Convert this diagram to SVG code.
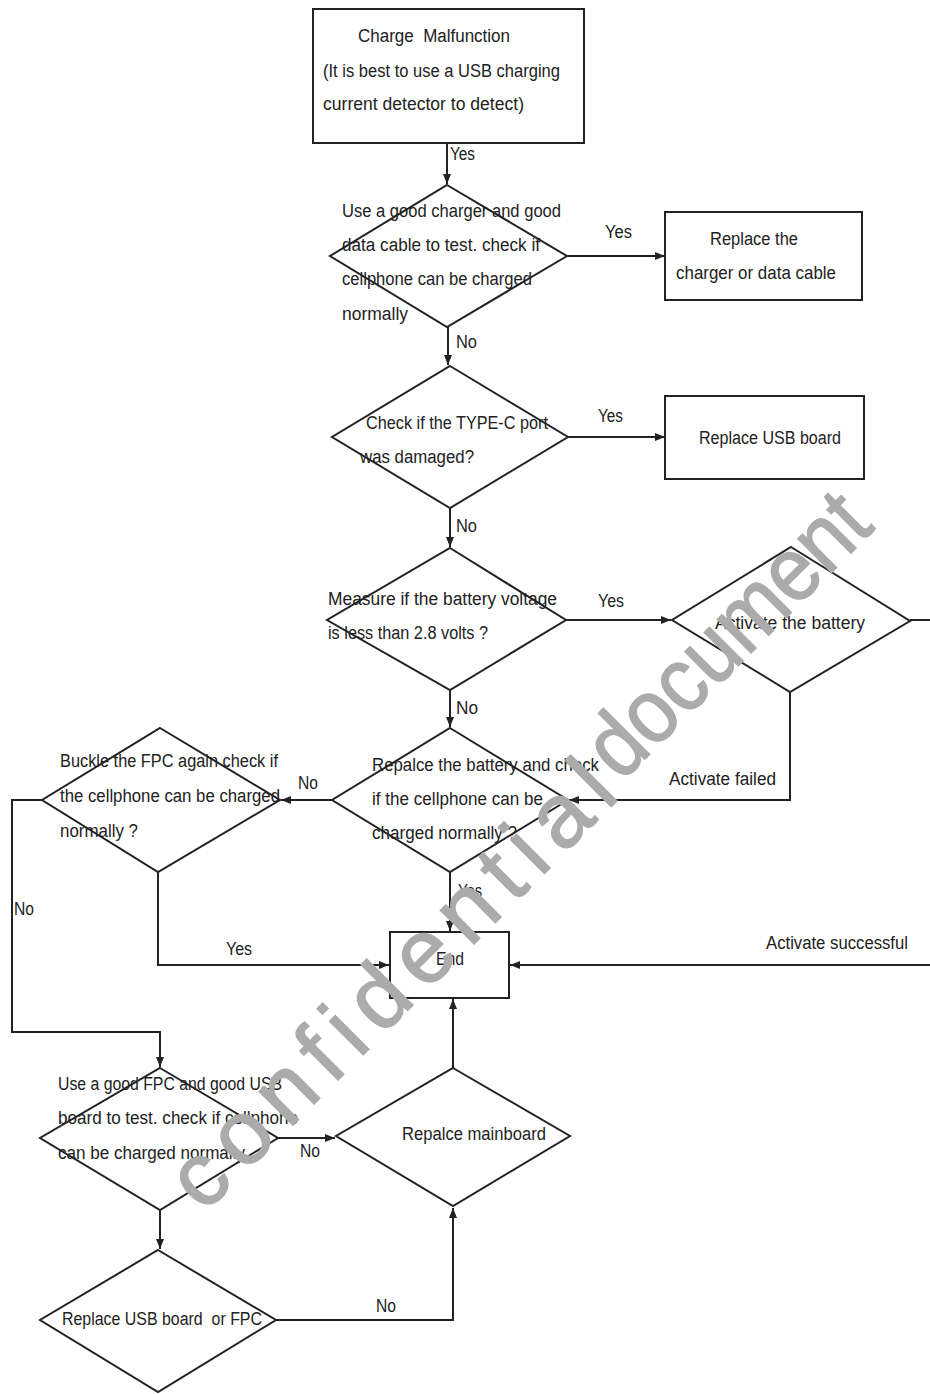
<svg xmlns="http://www.w3.org/2000/svg" width="930" height="1394" viewBox="0 0 930 1394">
<defs>
<style>
.s{fill:#fff;stroke:#222;stroke-width:2}
.c{fill:none;stroke:#222;stroke-width:2}
text{font-family:"Liberation Sans",Arial,sans-serif;font-size:18px;fill:#222}
.wm{font-family:"Liberation Sans",Arial,sans-serif;font-size:90px;fill:#ababab;stroke:#ababab;stroke-width:1.5}
</style>
<marker id="a" markerWidth="10" markerHeight="8" refX="10" refY="4" orient="auto" markerUnits="userSpaceOnUse">
<path d="M0,0 L10,4 L0,8 z" fill="#222"/>
</marker>
</defs>
<rect width="930" height="1394" fill="#fff"/>
<g id="connectors">
<path class="c" d="M447,143 V184" marker-end="url(#a)"/>
<path class="c" d="M567,256 H665" marker-end="url(#a)"/>
<path class="c" d="M448,327 V365" marker-end="url(#a)"/>
<path class="c" d="M568,437 H665" marker-end="url(#a)"/>
<path class="c" d="M450,508 V547" marker-end="url(#a)"/>
<path class="c" d="M566,620 H671" marker-end="url(#a)"/>
<path class="c" d="M450,690 V727" marker-end="url(#a)"/>
<path class="c" d="M910,620 H936 V965 H510" marker-end="url(#a)"/>
<path class="c" d="M790,692 V800 H569" marker-end="url(#a)"/>
<path class="c" d="M332,800 H281" marker-end="url(#a)"/>
<path class="c" d="M450,872 V931" marker-end="url(#a)"/>
<path class="c" d="M158,872 V965 H389" marker-end="url(#a)"/>
<path class="c" d="M42,800 H12 V1032 H160 V1067" marker-end="url(#a)"/>
<path class="c" d="M278,1138 H335" marker-end="url(#a)"/>
<path class="c" d="M453,1068 V999" marker-end="url(#a)"/>
<path class="c" d="M160,1210 V1249" marker-end="url(#a)"/>
<path class="c" d="M276,1320 H453 V1208" marker-end="url(#a)"/>
<text x="450" y="160" textLength="25" lengthAdjust="spacingAndGlyphs">Yes</text>
<text x="605" y="238" textLength="27" lengthAdjust="spacingAndGlyphs">Yes</text>
<text x="456" y="348" textLength="21" lengthAdjust="spacingAndGlyphs">No</text>
<text x="598" y="422" textLength="25" lengthAdjust="spacingAndGlyphs">Yes</text>
<text x="456" y="532" textLength="21" lengthAdjust="spacingAndGlyphs">No</text>
<text x="598" y="607" textLength="26" lengthAdjust="spacingAndGlyphs">Yes</text>
<text x="456" y="714" textLength="22" lengthAdjust="spacingAndGlyphs">No</text>
<text x="669" y="785" textLength="107" lengthAdjust="spacingAndGlyphs">Activate failed</text>
<text x="298" y="789" textLength="20" lengthAdjust="spacingAndGlyphs">No</text>
<text x="458" y="897" textLength="24" lengthAdjust="spacingAndGlyphs">Yes</text>
<text x="14" y="915" textLength="20" lengthAdjust="spacingAndGlyphs">No</text>
<text x="226" y="955" textLength="26" lengthAdjust="spacingAndGlyphs">Yes</text>
<text x="766" y="949" textLength="142" lengthAdjust="spacingAndGlyphs">Activate successful</text>
<text x="300" y="1157" textLength="20" lengthAdjust="spacingAndGlyphs">No</text>
<text x="376" y="1312" textLength="20" lengthAdjust="spacingAndGlyphs">No</text>
</g>
<g id="n-start">
<rect class="s" x="313" y="9" width="271" height="134"/>
<text x="358" y="42" textLength="152" lengthAdjust="spacingAndGlyphs" xml:space="preserve">Charge  Malfunction</text>
<text x="323" y="77" textLength="237" lengthAdjust="spacingAndGlyphs">(It is best to use a USB charging</text>
<text x="323" y="110" textLength="201" lengthAdjust="spacingAndGlyphs">current detector to detect)</text>
</g>
<g id="n-d1">
<polygon class="s" points="447,185 567,256 447,327 330,256"/>
<text x="342" y="217" textLength="219" lengthAdjust="spacingAndGlyphs">Use a good charger and good</text>
<text x="342" y="251" textLength="198" lengthAdjust="spacingAndGlyphs">data cable to test. check if</text>
<text x="342" y="285" textLength="190" lengthAdjust="spacingAndGlyphs">cellphone can be charged</text>
<text x="342" y="320" textLength="66" lengthAdjust="spacingAndGlyphs">normally</text>
</g>
<g id="n-charger">
<rect class="s" x="665" y="212" width="197" height="88"/>
<text x="710" y="245" textLength="88" lengthAdjust="spacingAndGlyphs">Replace the</text>
<text x="676" y="279" textLength="160" lengthAdjust="spacingAndGlyphs">charger or data cable</text>
</g>
<g id="n-d2">
<polygon class="s" points="450,366 568,437 450,508 332,437"/>
<text x="366" y="429" textLength="182" lengthAdjust="spacingAndGlyphs">Check if the TYPE-C port</text>
<text x="360" y="463" textLength="114" lengthAdjust="spacingAndGlyphs">was damaged?</text>
</g>
<g id="n-usb">
<rect class="s" x="665" y="396" width="199" height="83"/>
<text x="699" y="444" textLength="142" lengthAdjust="spacingAndGlyphs">Replace USB board</text>
</g>
<g id="n-d3">
<polygon class="s" points="450,548 566,620 450,690 327,620"/>
<text x="328" y="605" textLength="229" lengthAdjust="spacingAndGlyphs">Measure if the battery voltage</text>
<text x="328" y="639" textLength="160" lengthAdjust="spacingAndGlyphs">is less than 2.8 volts ?</text>
</g>
<g id="n-activate">
<polygon class="s" points="791,547 910,621 790,692 672,620"/>
<text x="715" y="629" textLength="150" lengthAdjust="spacingAndGlyphs">Activate the battery</text>
</g>
<g id="n-d4">
<polygon class="s" points="450,728 568,800 450,872 332,800"/>
<text x="372" y="771" textLength="227" lengthAdjust="spacingAndGlyphs">Repalce the battery and check</text>
<text x="372" y="805" textLength="171" lengthAdjust="spacingAndGlyphs">if the cellphone can be</text>
<text x="372" y="839" textLength="145" lengthAdjust="spacingAndGlyphs">charged normally ?</text>
</g>
<g id="n-d5">
<polygon class="s" points="160,728 280,800 158,872 42,800"/>
<text x="60" y="767" textLength="218" lengthAdjust="spacingAndGlyphs">Buckle the FPC again check if</text>
<text x="60" y="802" textLength="220" lengthAdjust="spacingAndGlyphs">the cellphone can be charged</text>
<text x="60" y="837" textLength="78" lengthAdjust="spacingAndGlyphs">normally ?</text>
</g>
<g id="n-end">
<rect class="s" x="390" y="932" width="119" height="66"/>
<text x="436" y="965" textLength="28" lengthAdjust="spacingAndGlyphs">End</text>
</g>
<g id="n-d6">
<polygon class="s" points="160,1068 278,1138 160,1210 40,1138"/>
<text x="58" y="1090" textLength="224" lengthAdjust="spacingAndGlyphs">Use a good FPC and good USB</text>
<text x="58" y="1124" textLength="240" lengthAdjust="spacingAndGlyphs">board to test. check if cellphone</text>
<text x="58" y="1159" textLength="187" lengthAdjust="spacingAndGlyphs">can be charged normally</text>
</g>
<g id="n-mainboard">
<polygon class="s" points="453,1068 570,1136 453,1206 336,1136"/>
<text x="402" y="1140" textLength="144" lengthAdjust="spacingAndGlyphs">Repalce mainboard</text>
</g>
<g id="n-d8">
<polygon class="s" points="158,1250 276,1320 158,1392 40,1320"/>
<text x="62" y="1325" textLength="200" lengthAdjust="spacingAndGlyphs" xml:space="preserve">Replace USB board  or FPC</text>
</g>
<g id="watermark" transform="translate(204,1214) rotate(-45)">
<text class="wm" x="0" y="0" textLength="590" lengthAdjust="spacing">confidential</text>
<text class="wm" x="600" y="-10" textLength="360" lengthAdjust="spacingAndGlyphs">document</text>
</g>
</svg>
